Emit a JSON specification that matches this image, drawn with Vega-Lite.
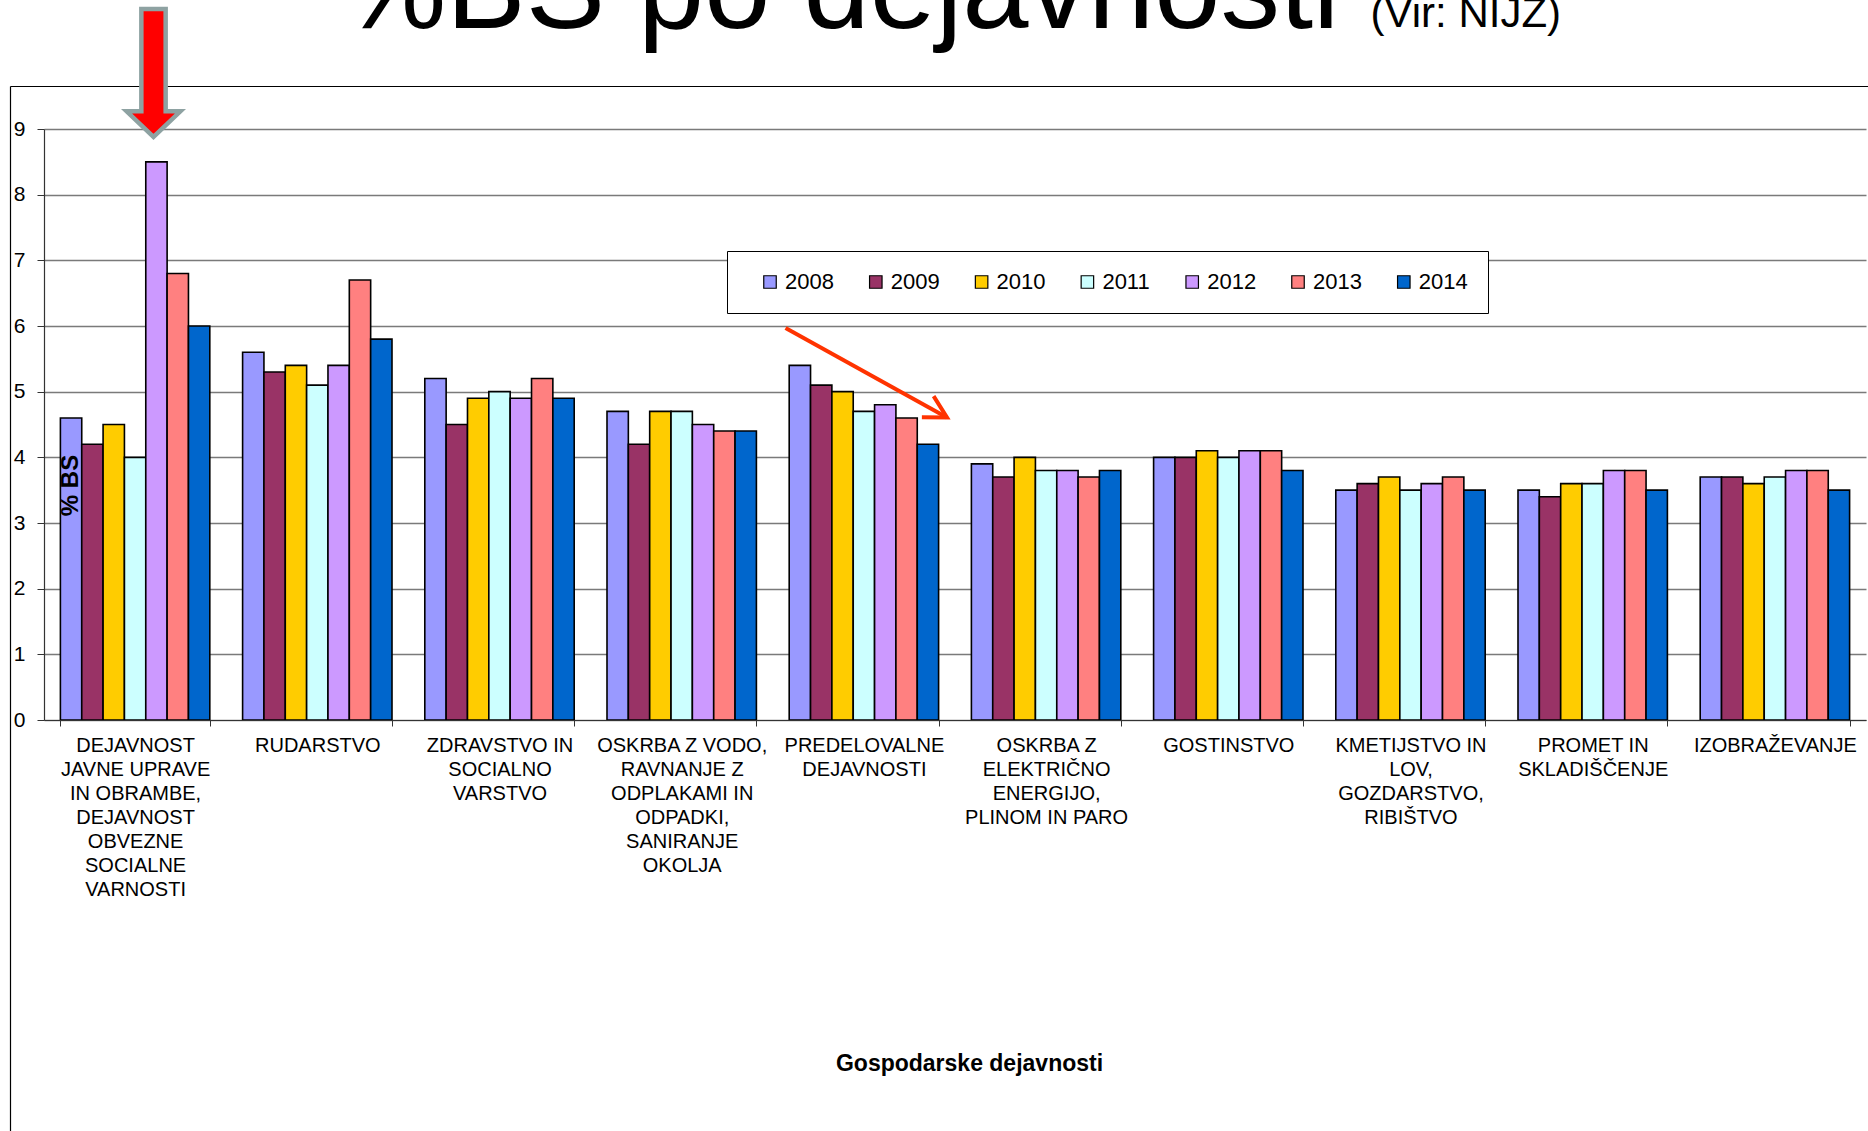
{
  "$schema": "https://vega.github.io/schema/vega-lite/v6.json",
  "autosize": "none",
  "width": 1822,
  "height": 591,
  "padding": {"left": 44, "top": 129, "right": 2, "bottom": 411},
  "background": "white",
  "config": {"font": "Liberation Sans", "view": {"stroke": null}},
  "layer": [
    {
      "data": {"values": [
        {"dejavnost": "DEJAVNOST JAVNE UPRAVE IN OBRAMBE, DEJAVNOST OBVEZNE SOCIALNE VARNOSTI", "leto": "2008", "bs": 4.6},
        {"dejavnost": "DEJAVNOST JAVNE UPRAVE IN OBRAMBE, DEJAVNOST OBVEZNE SOCIALNE VARNOSTI", "leto": "2009", "bs": 4.2},
        {"dejavnost": "DEJAVNOST JAVNE UPRAVE IN OBRAMBE, DEJAVNOST OBVEZNE SOCIALNE VARNOSTI", "leto": "2010", "bs": 4.5},
        {"dejavnost": "DEJAVNOST JAVNE UPRAVE IN OBRAMBE, DEJAVNOST OBVEZNE SOCIALNE VARNOSTI", "leto": "2011", "bs": 4.0},
        {"dejavnost": "DEJAVNOST JAVNE UPRAVE IN OBRAMBE, DEJAVNOST OBVEZNE SOCIALNE VARNOSTI", "leto": "2012", "bs": 8.5},
        {"dejavnost": "DEJAVNOST JAVNE UPRAVE IN OBRAMBE, DEJAVNOST OBVEZNE SOCIALNE VARNOSTI", "leto": "2013", "bs": 6.8},
        {"dejavnost": "DEJAVNOST JAVNE UPRAVE IN OBRAMBE, DEJAVNOST OBVEZNE SOCIALNE VARNOSTI", "leto": "2014", "bs": 6.0},
        {"dejavnost": "RUDARSTVO", "leto": "2008", "bs": 5.6},
        {"dejavnost": "RUDARSTVO", "leto": "2009", "bs": 5.3},
        {"dejavnost": "RUDARSTVO", "leto": "2010", "bs": 5.4},
        {"dejavnost": "RUDARSTVO", "leto": "2011", "bs": 5.1},
        {"dejavnost": "RUDARSTVO", "leto": "2012", "bs": 5.4},
        {"dejavnost": "RUDARSTVO", "leto": "2013", "bs": 6.7},
        {"dejavnost": "RUDARSTVO", "leto": "2014", "bs": 5.8},
        {"dejavnost": "ZDRAVSTVO IN SOCIALNO VARSTVO", "leto": "2008", "bs": 5.2},
        {"dejavnost": "ZDRAVSTVO IN SOCIALNO VARSTVO", "leto": "2009", "bs": 4.5},
        {"dejavnost": "ZDRAVSTVO IN SOCIALNO VARSTVO", "leto": "2010", "bs": 4.9},
        {"dejavnost": "ZDRAVSTVO IN SOCIALNO VARSTVO", "leto": "2011", "bs": 5.0},
        {"dejavnost": "ZDRAVSTVO IN SOCIALNO VARSTVO", "leto": "2012", "bs": 4.9},
        {"dejavnost": "ZDRAVSTVO IN SOCIALNO VARSTVO", "leto": "2013", "bs": 5.2},
        {"dejavnost": "ZDRAVSTVO IN SOCIALNO VARSTVO", "leto": "2014", "bs": 4.9},
        {"dejavnost": "OSKRBA Z VODO, RAVNANJE Z ODPLAKAMI IN ODPADKI, SANIRANJE OKOLJA", "leto": "2008", "bs": 4.7},
        {"dejavnost": "OSKRBA Z VODO, RAVNANJE Z ODPLAKAMI IN ODPADKI, SANIRANJE OKOLJA", "leto": "2009", "bs": 4.2},
        {"dejavnost": "OSKRBA Z VODO, RAVNANJE Z ODPLAKAMI IN ODPADKI, SANIRANJE OKOLJA", "leto": "2010", "bs": 4.7},
        {"dejavnost": "OSKRBA Z VODO, RAVNANJE Z ODPLAKAMI IN ODPADKI, SANIRANJE OKOLJA", "leto": "2011", "bs": 4.7},
        {"dejavnost": "OSKRBA Z VODO, RAVNANJE Z ODPLAKAMI IN ODPADKI, SANIRANJE OKOLJA", "leto": "2012", "bs": 4.5},
        {"dejavnost": "OSKRBA Z VODO, RAVNANJE Z ODPLAKAMI IN ODPADKI, SANIRANJE OKOLJA", "leto": "2013", "bs": 4.4},
        {"dejavnost": "OSKRBA Z VODO, RAVNANJE Z ODPLAKAMI IN ODPADKI, SANIRANJE OKOLJA", "leto": "2014", "bs": 4.4},
        {"dejavnost": "PREDELOVALNE DEJAVNOSTI", "leto": "2008", "bs": 5.4},
        {"dejavnost": "PREDELOVALNE DEJAVNOSTI", "leto": "2009", "bs": 5.1},
        {"dejavnost": "PREDELOVALNE DEJAVNOSTI", "leto": "2010", "bs": 5.0},
        {"dejavnost": "PREDELOVALNE DEJAVNOSTI", "leto": "2011", "bs": 4.7},
        {"dejavnost": "PREDELOVALNE DEJAVNOSTI", "leto": "2012", "bs": 4.8},
        {"dejavnost": "PREDELOVALNE DEJAVNOSTI", "leto": "2013", "bs": 4.6},
        {"dejavnost": "PREDELOVALNE DEJAVNOSTI", "leto": "2014", "bs": 4.2},
        {"dejavnost": "OSKRBA Z ELEKTRIČNO ENERGIJO, PLINOM IN PARO", "leto": "2008", "bs": 3.9},
        {"dejavnost": "OSKRBA Z ELEKTRIČNO ENERGIJO, PLINOM IN PARO", "leto": "2009", "bs": 3.7},
        {"dejavnost": "OSKRBA Z ELEKTRIČNO ENERGIJO, PLINOM IN PARO", "leto": "2010", "bs": 4.0},
        {"dejavnost": "OSKRBA Z ELEKTRIČNO ENERGIJO, PLINOM IN PARO", "leto": "2011", "bs": 3.8},
        {"dejavnost": "OSKRBA Z ELEKTRIČNO ENERGIJO, PLINOM IN PARO", "leto": "2012", "bs": 3.8},
        {"dejavnost": "OSKRBA Z ELEKTRIČNO ENERGIJO, PLINOM IN PARO", "leto": "2013", "bs": 3.7},
        {"dejavnost": "OSKRBA Z ELEKTRIČNO ENERGIJO, PLINOM IN PARO", "leto": "2014", "bs": 3.8},
        {"dejavnost": "GOSTINSTVO", "leto": "2008", "bs": 4.0},
        {"dejavnost": "GOSTINSTVO", "leto": "2009", "bs": 4.0},
        {"dejavnost": "GOSTINSTVO", "leto": "2010", "bs": 4.1},
        {"dejavnost": "GOSTINSTVO", "leto": "2011", "bs": 4.0},
        {"dejavnost": "GOSTINSTVO", "leto": "2012", "bs": 4.1},
        {"dejavnost": "GOSTINSTVO", "leto": "2013", "bs": 4.1},
        {"dejavnost": "GOSTINSTVO", "leto": "2014", "bs": 3.8},
        {"dejavnost": "KMETIJSTVO IN LOV, GOZDARSTVO, RIBIŠTVO", "leto": "2008", "bs": 3.5},
        {"dejavnost": "KMETIJSTVO IN LOV, GOZDARSTVO, RIBIŠTVO", "leto": "2009", "bs": 3.6},
        {"dejavnost": "KMETIJSTVO IN LOV, GOZDARSTVO, RIBIŠTVO", "leto": "2010", "bs": 3.7},
        {"dejavnost": "KMETIJSTVO IN LOV, GOZDARSTVO, RIBIŠTVO", "leto": "2011", "bs": 3.5},
        {"dejavnost": "KMETIJSTVO IN LOV, GOZDARSTVO, RIBIŠTVO", "leto": "2012", "bs": 3.6},
        {"dejavnost": "KMETIJSTVO IN LOV, GOZDARSTVO, RIBIŠTVO", "leto": "2013", "bs": 3.7},
        {"dejavnost": "KMETIJSTVO IN LOV, GOZDARSTVO, RIBIŠTVO", "leto": "2014", "bs": 3.5},
        {"dejavnost": "PROMET IN SKLADIŠČENJE", "leto": "2008", "bs": 3.5},
        {"dejavnost": "PROMET IN SKLADIŠČENJE", "leto": "2009", "bs": 3.4},
        {"dejavnost": "PROMET IN SKLADIŠČENJE", "leto": "2010", "bs": 3.6},
        {"dejavnost": "PROMET IN SKLADIŠČENJE", "leto": "2011", "bs": 3.6},
        {"dejavnost": "PROMET IN SKLADIŠČENJE", "leto": "2012", "bs": 3.8},
        {"dejavnost": "PROMET IN SKLADIŠČENJE", "leto": "2013", "bs": 3.8},
        {"dejavnost": "PROMET IN SKLADIŠČENJE", "leto": "2014", "bs": 3.5},
        {"dejavnost": "IZOBRAŽEVANJE", "leto": "2008", "bs": 3.7},
        {"dejavnost": "IZOBRAŽEVANJE", "leto": "2009", "bs": 3.7},
        {"dejavnost": "IZOBRAŽEVANJE", "leto": "2010", "bs": 3.6},
        {"dejavnost": "IZOBRAŽEVANJE", "leto": "2011", "bs": 3.7},
        {"dejavnost": "IZOBRAŽEVANJE", "leto": "2012", "bs": 3.8},
        {"dejavnost": "IZOBRAŽEVANJE", "leto": "2013", "bs": 3.8},
        {"dejavnost": "IZOBRAŽEVANJE", "leto": "2014", "bs": 3.5}
      ]},
      "mark": {"type": "bar", "stroke": "#000000", "strokeWidth": 1.6, "strokeOpacity": 1},
      "encoding": {
        "x": {
          "field": "dejavnost", "type": "nominal", "sort": null,
          "scale": {"paddingInner": 0.18, "paddingOuter": 0.09},
          "axis": {
            "orient": "bottom",
            "title": "Gospodarske dejavnosti",
            "labelAngle": 0, "labelFontSize": 20, "labelLineHeight": 24, "labelColor": "#000000",
            "labelPadding": 9, "labelLimit": 400, "labelOverlap": false, "labelBaseline": "top", "labelAlign": "center",
            "labelExpr": "({'DEJAVNOST JAVNE UPRAVE IN OBRAMBE, DEJAVNOST OBVEZNE SOCIALNE VARNOSTI': ['DEJAVNOST', 'JAVNE UPRAVE', 'IN OBRAMBE,', 'DEJAVNOST', 'OBVEZNE', 'SOCIALNE', 'VARNOSTI'], 'ZDRAVSTVO IN SOCIALNO VARSTVO': ['ZDRAVSTVO IN', 'SOCIALNO', 'VARSTVO'], 'OSKRBA Z VODO, RAVNANJE Z ODPLAKAMI IN ODPADKI, SANIRANJE OKOLJA': ['OSKRBA Z VODO,', 'RAVNANJE Z', 'ODPLAKAMI IN', 'ODPADKI,', 'SANIRANJE', 'OKOLJA'], 'PREDELOVALNE DEJAVNOSTI': ['PREDELOVALNE', 'DEJAVNOSTI'], 'OSKRBA Z ELEKTRIČNO ENERGIJO, PLINOM IN PARO': ['OSKRBA Z', 'ELEKTRIČNO', 'ENERGIJO,', 'PLINOM IN PARO'], 'KMETIJSTVO IN LOV, GOZDARSTVO, RIBIŠTVO': ['KMETIJSTVO IN', 'LOV,', 'GOZDARSTVO,', 'RIBIŠTVO'], 'PROMET IN SKLADIŠČENJE': ['PROMET IN', 'SKLADIŠČENJE']})[datum.label] || datum.label",
            "tickBand": "extent", "tickSize": 6, "tickColor": "#333333", "domainColor": "#333333", "domainWidth": 1.2,
            "grid": false,
            "titleFontSize": 23, "titleFontWeight": "bold", "titleColor": "#000000",
            "titleX": 925, "titleY": 350, "titleAlign": "center", "titleBaseline": "alphabetic",
            "zindex": 1
          }
        },
        "xOffset": {"field": "leto", "type": "nominal", "scale": {"paddingInner": 0, "paddingOuter": 0}},
        "y": {
          "field": "bs", "type": "quantitative",
          "scale": {"domain": [0, 9], "nice": false},
          "axis": {
            "title": "% BS", "values": [0, 1, 2, 3, 4, 5, 6, 7, 8, 9],
            "labelFontSize": 21, "labelColor": "#000000", "labelPadding": 12,
            "tickSize": 7, "tickColor": "#333333", "domainColor": "#333333", "domainWidth": 1.2, "grid": false,
            "titleFontSize": 24, "titleFontWeight": "bold", "titleColor": "#000000",
            "titleAngle": 270, "titleX": 33, "titleY": 356, "titleAlign": "center", "titleBaseline": "alphabetic",
            "zindex": 1
          }
        },
        "color": {
          "field": "leto", "type": "nominal",
          "scale": {"domain": ["2008", "2009", "2010", "2011", "2012", "2013", "2014"],
                    "range": ["#9999FF", "#993366", "#FFCC00", "#CCFFFF", "#CC99FF", "#FF8080", "#0066CC"]},
          "legend": {
            "orient": "none", "legendX": 683, "legendY": 122, "direction": "horizontal", "columns": 7,
            "title": " ", "titleOrient": "left", "titleFontSize": 22, "titlePadding": 12,
            "padding": 20, "strokeColor": "#000000", "fillColor": "#ffffff",
            "symbolType": "square", "symbolSize": 156, "symbolStrokeColor": "#000000", "symbolStrokeWidth": 1.2, "symbolOpacity": 1,
            "labelFontSize": 22, "labelColor": "#000000", "labelFont": "Liberation Sans", "labelOffset": 4,
            "columnPadding": 30.8, "labelExpr": "datum.label + '  '", "labelLimit": 300
          }
        }
      }
    },
    {
      "data": {"values": [{}]},
      "mark": {"type": "point", "opacity": 0},
      "encoding": {
        "x": {"datum": 0, "type": "quantitative", "scale": {"domain": [0, 10], "nice": false, "zero": false}, "axis": null},
        "y": {"datum": 0, "type": "quantitative", "scale": {"domain": [0, 9], "nice": false},
              "axis": {"orient": "left", "grid": true, "gridColor": "#7A7A7A", "gridWidth": 1.5,
                       "values": [0, 1, 2, 3, 4, 5, 6, 7, 8, 9],
                       "domain": false, "ticks": false, "labels": false, "title": null, "zindex": 0}}
      }
    },
    {
      "data": {"values": [{}]},
      "mark": {"type": "point", "opacity": 0},
      "encoding": {
        "x": {"datum": 0, "type": "quantitative",
              "scale": {"domain": [0, 10], "range": [-34, 1824], "nice": false, "zero": false},
              "axis": {"orient": "top", "offset": 43, "domain": true, "domainColor": "#000000", "domainWidth": 1.2,
                       "ticks": false, "labels": false, "grid": false,
                       "title": "%BS po dejavnosti", "titleFont": "Liberation Sans", "titleFontSize": 119,
                       "titleFontWeight": "normal", "titleColor": "#000000",
                       "titleX": 296, "titleY": -59, "titleAlign": "left", "titleAnchor": "start",
                       "titleBaseline": "alphabetic", "titleAngle": 0, "titleLimit": 3000, "zindex": 0}},
        "y": {"datum": 0, "type": "quantitative",
              "scale": {"domain": [0, 9], "range": [1002, -43], "nice": false},
              "axis": {"orient": "left", "offset": 34, "domain": true, "domainColor": "#000000", "domainWidth": 1.2,
                       "ticks": false, "labels": false, "grid": false,
                       "title": "(Vir: NIJZ)", "titleFont": "Liberation Sans", "titleFontSize": 42,
                       "titleFontWeight": "normal", "titleColor": "#000000",
                       "titleX": 1360, "titleY": -103, "titleAlign": "left", "titleAngle": 0,
                       "titleBaseline": "alphabetic", "titleLimit": 3000, "zindex": 0}}
      }
    },
    {
      "data": {"values": [{}]},
      "mark": {"type": "point", "shape": "M-0.19,-1L0.19,-1L0.19,0.6L0.42,0.6L0,1L-0.42,0.6L-0.19,0.6Z",
               "size": 16384, "filled": true, "fill": "#FF0000", "stroke": "#8EA2A2", "strokeWidth": 4.5,
               "opacity": 1, "fillOpacity": 1, "strokeOpacity": 1, "strokeJoin": "miter"},
      "encoding": {
        "x": {"datum": 0.601, "type": "quantitative", "scale": {"domain": [0, 10], "nice": false, "zero": false}, "axis": null},
        "y": {"datum": 9.854, "type": "quantitative", "scale": {"domain": [0, 9], "nice": false}, "axis": null}
      }
    },
    {
      "data": {"values": [{}]},
      "mark": {"type": "rule", "stroke": "#FF3300", "strokeWidth": 4},
      "encoding": {
        "x": {"datum": 4.07, "type": "quantitative", "scale": {"domain": [0, 10], "nice": false, "zero": false}, "axis": null},
        "x2": {"datum": 4.956},
        "y": {"datum": 5.969, "type": "quantitative", "scale": {"domain": [0, 9], "nice": false}, "axis": null},
        "y2": {"datum": 4.608}
      }
    },
    {
      "data": {"values": [{}]},
      "mark": {"type": "point", "shape": "M-1,-0.55L0,0L-1,0.55", "size": 1936, "filled": false,
               "stroke": "#FF3300", "strokeWidth": 4, "angle": 29, "opacity": 1},
      "encoding": {
        "x": {"datum": 4.956, "type": "quantitative", "scale": {"domain": [0, 10], "nice": false, "zero": false}, "axis": null},
        "y": {"datum": 4.608, "type": "quantitative", "scale": {"domain": [0, 9], "nice": false}, "axis": null}
      }
    }
  ],
  "resolve": {
    "scale": {"x": "independent", "y": "independent"},
    "axis": {"x": "independent", "y": "independent"}
  }
}
